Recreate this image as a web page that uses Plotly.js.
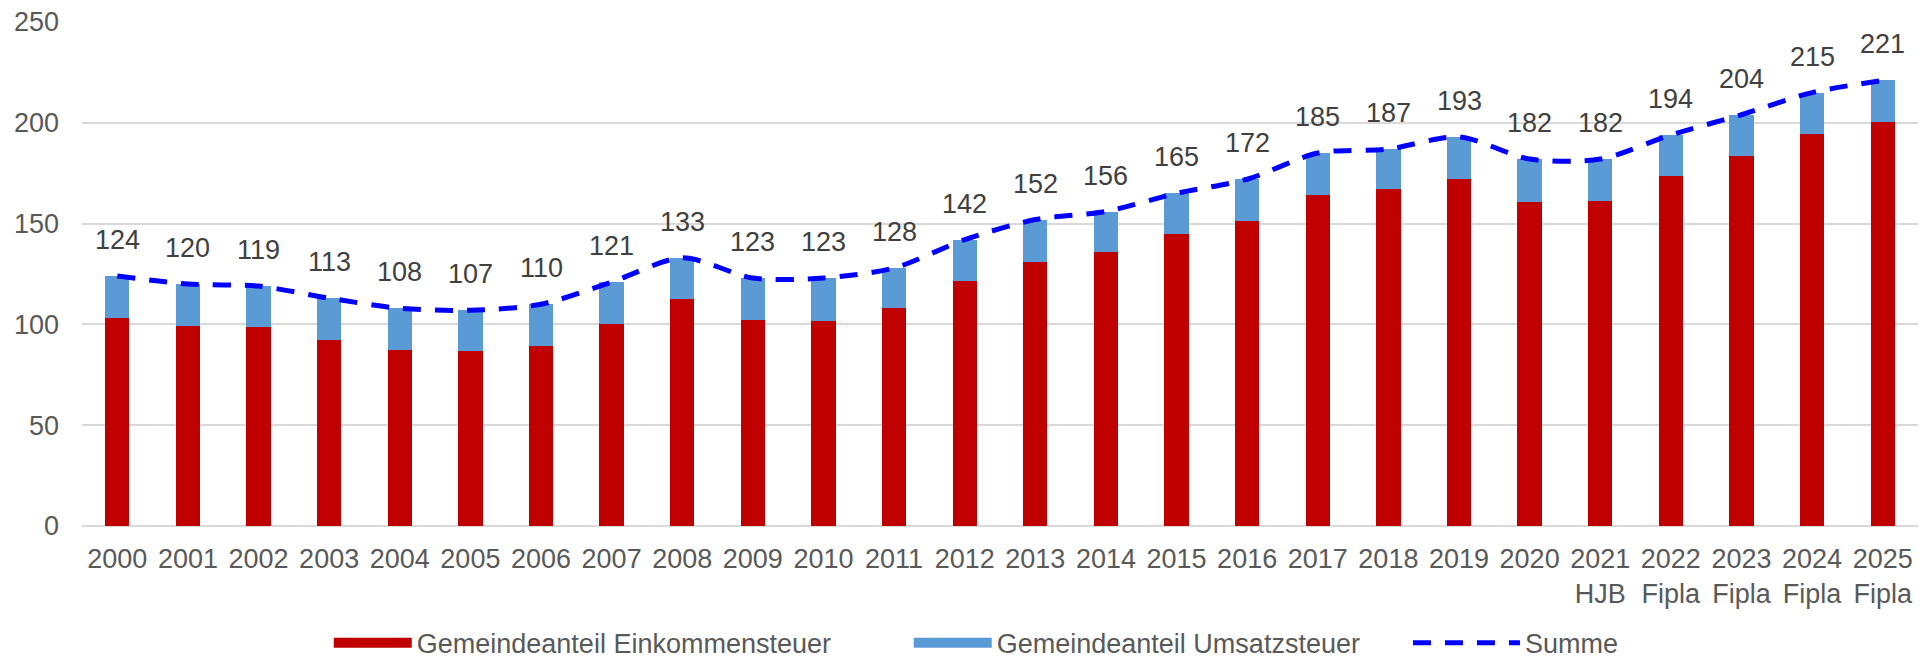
<!DOCTYPE html>
<html>
<head>
<meta charset="utf-8">
<script src="https://cdn.plot.ly/plotly-3.0.1.min.js"></script>
<style>html,body{margin:0;padding:0;background:#fff;}#chart{width:1922px;height:663px;}</style>
</head>
<body>
<div id="chart"></div>
<script>
var categories = ['2000','2001','2002','2003','2004','2005','2006','2007','2008','2009','2010','2011','2012','2013','2014','2015','2016','2017','2018','2019','2020','2021<br>HJB','2022<br>Fipla','2023<br>Fipla','2024<br>Fipla','2025<br>Fipla'];
var einkommensteuer = [103.4, 99.4, 98.8, 92.1, 87.5, 86.8, 89.4, 100.2, 112.8, 102.4, 101.8, 107.9, 121.5, 131.1, 135.7, 144.6, 151.3, 164.1, 167.0, 172.1, 160.9, 161.3, 173.5, 183.6, 194.3, 200.3];
var umsatzsteuer = [20.6, 20.6, 20.2, 20.9, 20.5, 20.2, 20.6, 20.8, 20.2, 20.6, 21.2, 20.1, 20.5, 20.9, 20.3, 20.4, 20.7, 20.9, 20.0, 20.9, 21.1, 20.7, 20.5, 20.4, 20.7, 20.7];
var summe = [124, 120, 119, 113, 108, 107, 110, 121, 133, 123, 123, 128, 142, 152, 156, 165, 172, 185, 187, 193, 182, 182, 194, 204, 215, 221];
var seriesNames = ['Gemeindeanteil Einkommensteuer', 'Gemeindeanteil Umsatzsteuer', 'Summe'];

var RED = '#C00000', BLUE = '#5B9BD5', LINE = '#0000FF';
var FONT = 'Liberation Sans, Arial, Helvetica, sans-serif';

var traces = [
  {type:'bar', x:categories, y:einkommensteuer, marker:{color:RED}, showlegend:false, hoverinfo:'skip'},
  {type:'bar', x:categories, y:umsatzsteuer, marker:{color:BLUE}, showlegend:false, hoverinfo:'skip'},
  {type:'scatter', mode:'lines', x:categories, y:summe, name:seriesNames[2],
   line:{color:LINE, width:5, dash:'18px,14px', shape:'spline', smoothing:0.8}, legend:'legend3', hoverinfo:'skip'},
  {type:'scatter', mode:'lines', x:[categories[0]], y:[null], name:seriesNames[0], line:{color:RED, width:14}, legend:'legend'},
  {type:'scatter', mode:'lines', x:[categories[0]], y:[null], name:seriesNames[1], line:{color:BLUE, width:14}, legend:'legend2'}
];

var annotations = categories.map(function(c, i){
  return {x:i, y:summe[i], xref:'x', yref:'y', text:String(summe[i]), showarrow:false,
          yshift:36, font:{family:FONT, size:27, color:'#404040'}};
});

function lg(x, w){
  return {orientation:'h', x:x, xanchor:'left', y:-0.2324, yanchor:'middle', itemwidth:w,
          font:{family:FONT, size:27, color:'#595959'}, bgcolor:'rgba(0,0,0,0)', borderwidth:0, itemclick:false, itemdoubleclick:false};
}

var layout = {
  width:1922, height:663,
  margin:{l:82, r:4, t:22, b:137, autoexpand:false},
  paper_bgcolor:'#ffffff', plot_bgcolor:'#ffffff',
  barmode:'stack', bargap:0.656,
  font:{family:FONT, size:27, color:'#595959'},
  xaxis:{type:'category', categoryorder:'array', categoryarray:categories, range:[-0.5, categories.length-0.5], automargin:false,
         showgrid:false, showline:false, ticks:'', tickfont:{family:FONT, size:27, color:'#595959'}, ticklabelstandoff:14, fixedrange:true},
  yaxis:{range:[0,250], dtick:50, showgrid:true, gridcolor:'#d9d9d9', gridwidth:2, zeroline:true, zerolinecolor:'#d9d9d9', zerolinewidth:2, automargin:false,
         showline:false, ticks:'', tickfont:{family:FONT, size:27, color:'#595959'}, ticklabelstandoff:22, fixedrange:true},
  annotations:annotations,
  legend: lg(0.1344, 78),
  legend2: lg(0.4503, 78),
  legend3: lg(0.7222, 107),
  showlegend:true
};

Plotly.newPlot('chart', traces, layout, {displayModeBar:false, staticPlot:true});
</script>
</body>
</html>
